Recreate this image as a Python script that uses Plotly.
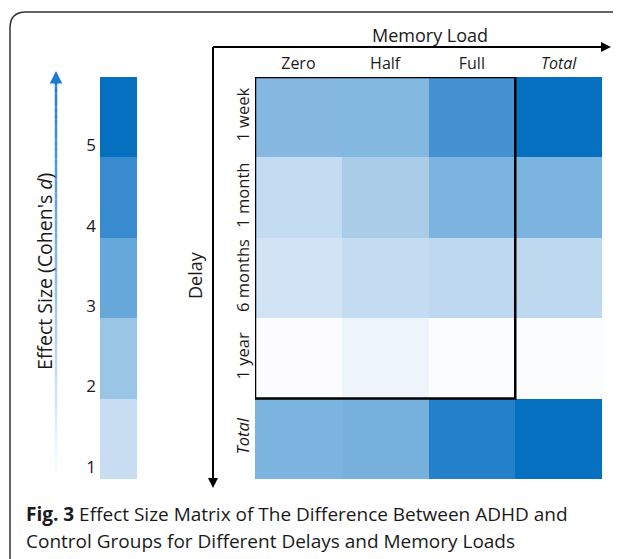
import plotly.graph_objects as go

# ---- data ----
memory_loads = ["Zero", "Half", "Full", "<i>Total</i>"]
delays = ["1 week", "1 month", "6 months", "1 year", "<i>Total</i>"]
# estimated effect size (Cohen's d scale 0-5) read from cell shading
effect_1week = [2.4, 2.45, 3.75, 5.0]
effect_1month = [1.1, 1.7, 2.6, 2.6]
effect_6months = [0.85, 1.1, 1.25, 1.25]
effect_1year = [0.02, 0.3, 0.03, 0.03]
effect_total = [2.6, 2.7, 4.4, 5.0]
legend_levels = [1, 2, 3, 4, 5]
legend_labels = ["1", "2", "3", "4", "5"]

OFF = 8  # page body margin
W, H = 621 - OFF, 559 - OFF
def px(x):
    return (x - OFF) / W
def py(y):
    return 1 - (y - OFF) / H

colorscale = [
    [0.0, "#fdfdfe"],
    [0.2, "#c9def2"],
    [0.4, "#9bc5e5"],
    [0.6, "#66a8da"],
    [0.8, "#388bce"],
    [1.0, "#0570c0"],
]

z = [effect_1week, effect_1month, effect_6months, effect_1year, effect_total]

fig = go.Figure()
fig.add_trace(go.Heatmap(
    z=z, x=list(range(len(memory_loads))), y=list(range(len(delays))),
    colorscale=colorscale, zmin=0, zmax=5, showscale=False,
    xaxis="x", yaxis="y", hoverinfo="skip", xgap=0, ygap=0,
))
fig.add_trace(go.Heatmap(
    z=[[v] for v in legend_levels], x=[0], y=legend_levels,
    colorscale=colorscale, zmin=0, zmax=5, showscale=False,
    xaxis="x2", yaxis="y2", hoverinfo="skip",
))

font_main = "Open Sans, Noto Sans, sans-serif"
txt = "#1a1a1a"

fig.update_layout(
    width=W, height=H,
    margin=dict(l=0, r=0, t=0, b=0),
    paper_bgcolor="white", plot_bgcolor="white",
    showlegend=False,
    font=dict(family=font_main, color=txt),
    xaxis=dict(domain=[px(255), px(602)], range=[-0.5, 3.5],
               tickvals=list(range(len(memory_loads))), ticktext=memory_loads,
               side="top", showgrid=False, zeroline=False, showline=False,
               ticks="", ticklabelstandoff=4, tickfont=dict(size=16, color=txt),
               fixedrange=True),
    yaxis=dict(domain=[py(479), py(77)], range=[4.5, -0.5],
               tickvals=list(range(len(delays))), ticktext=delays,
               tickangle=-90, showgrid=False, zeroline=False, showline=False,
               ticks="", ticklabelstandoff=2, tickfont=dict(size=16.5, color=txt),
               fixedrange=True),
    xaxis2=dict(domain=[px(100), px(137)], range=[-0.5, 0.5], anchor="y2",
                showticklabels=False, showgrid=False, zeroline=False,
                showline=False, ticks="", fixedrange=True),
    yaxis2=dict(domain=[py(479), py(77)], range=[0.5, 5.5], anchor="x2",
                tickvals=[v - 0.35 for v in legend_levels], ticktext=legend_labels,
                showgrid=False, zeroline=False, showline=False, ticks="",
                ticklabelstandoff=3, tickfont=dict(size=17, color=txt),
                fixedrange=True),
)

shapes = []
# black rectangle around the inner 3x4 block
shapes.append(dict(type="rect", xref="x", yref="y", x0=-0.5, x1=2.5, y0=-0.5, y1=3.5,
                   line=dict(color="black", width=2.5), fillcolor="rgba(0,0,0,0)"))
# axis lines
shapes.append(dict(type="line", xref="paper", yref="paper", x0=px(213), x1=px(604),
                   y0=py(47), y1=py(47), line=dict(color="black", width=2)))
shapes.append(dict(type="line", xref="paper", yref="paper", x0=px(213), x1=px(213),
                   y0=py(47), y1=py(481), line=dict(color="black", width=2)))
# gradient arrow shaft (decorative)
n = 60
y_top, y_bot = 80, 478
c_top = (26, 123, 208)
for i in range(n):
    t0 = i / n
    t1 = (i + 1) / n
    f = (t0 + t1) / 2
    r = int(255 + (c_top[0] - 255) * f)
    g = int(255 + (c_top[1] - 255) * f)
    b = int(255 + (c_top[2] - 255) * f)
    shapes.append(dict(type="line", xref="paper", yref="paper", x0=px(56), x1=px(56),
                       y0=py(y_bot - (y_bot - y_top) * t0), y1=py(y_bot - (y_bot - y_top) * t1),
                       line=dict(color=f"rgb({r},{g},{b})", width=2.5)))
# outer rounded frame
shapes.append(dict(type="path", xref="paper", yref="paper",
                   path=f"M {px(10)},{py(562)} L {px(10)},{py(28)} Q {px(10)},{py(12)} {px(26)},{py(12)} L {px(630)},{py(12)}",
                   line=dict(color="#333333", width=1.5)))
fig.update_layout(shapes=shapes)

ann = []
# arrow heads
ann.append(dict(xref="paper", yref="paper", x=px(611), y=py(47), ax=-20, ay=0,
                showarrow=True, arrowhead=2, arrowsize=1, arrowwidth=2, arrowcolor="black", text=""))
ann.append(dict(xref="paper", yref="paper", x=px(213), y=py(488), ax=0, ay=-20,
                showarrow=True, arrowhead=2, arrowsize=1, arrowwidth=2, arrowcolor="black", text=""))
ann.append(dict(xref="paper", yref="paper", x=px(56), y=py(71), ax=0, ay=15,
                showarrow=True, arrowhead=2, arrowsize=1, arrowwidth=2.5, arrowcolor="rgb(26,123,208)", text=""))
ann.append(dict(xref="paper", yref="paper", x=px(430), y=py(35), text="Memory Load",
                xanchor="center", yanchor="middle",
                showarrow=False, font=dict(size=18, color=txt)))
ann.append(dict(xref="paper", yref="paper", x=px(195), y=py(275), text="Delay", textangle=-90,
                xanchor="center", yanchor="middle",
                showarrow=False, font=dict(size=18, color=txt)))
ann.append(dict(xref="paper", yref="paper", x=px(44), y=py(272), text="Effect Size (Cohen's <i>d</i>)",
                xanchor="center", yanchor="middle",
                textangle=-90, showarrow=False, font=dict(size=19.5, color=txt)))
ann.append(dict(xref="paper", yref="paper", x=px(24), y=py(514), xanchor="left", yanchor="middle",
                align="left",
                text="<b>Fig. 3</b> Effect Size Matrix of The Difference Between ADHD and",
                showarrow=False, font=dict(size=19, color=txt)))
ann.append(dict(xref="paper", yref="paper", x=px(24), y=py(541), xanchor="left", yanchor="middle",
                align="left",
                text="Control Groups for Different Delays and Memory Loads",
                showarrow=False, font=dict(size=19, color=txt)))
fig.update_layout(annotations=ann)

fig.write_html("out.html")
